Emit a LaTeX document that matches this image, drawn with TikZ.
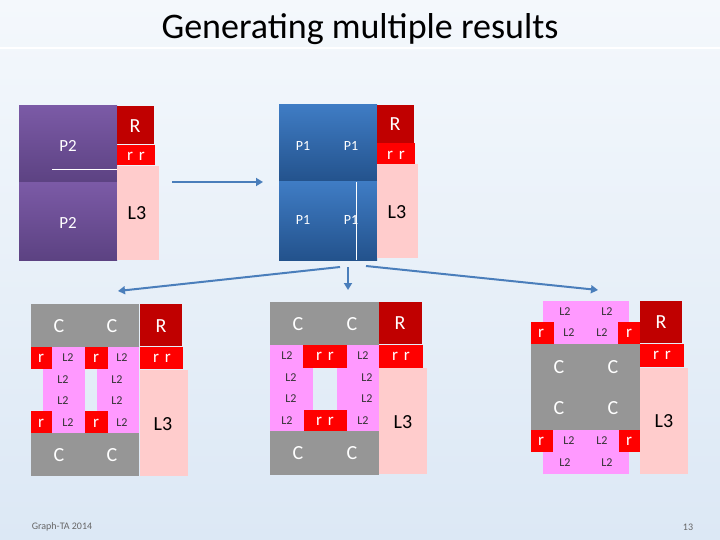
\documentclass[tikz,border=0pt]{standalone}
\usepackage{fontspec}
\setmainfont{Carlito}
\usetikzlibrary{arrows.meta}
\definecolor{bgtop}{HTML}{F4F8FC}
\definecolor{bgbot}{HTML}{DCE8F5}
\definecolor{lila}{HTML}{7B5AA6}
\definecolor{lilad}{HTML}{5C4282}
\definecolor{blu}{HTML}{3F7CC4}
\definecolor{blud}{HTML}{23528C}
\definecolor{dred}{HTML}{C00000}
\definecolor{bred}{HTML}{FF0000}
\definecolor{lthree}{HTML}{FFCCCC}
\definecolor{ltwo}{HTML}{FF99FF}
\definecolor{cgray}{HTML}{969696}
\definecolor{arr}{HTML}{4A7EBB}
\newcommand{\blk}[5]{\fill[#1] (#2,#3) rectangle (#4,#5);}
\begin{document}
\begin{tikzpicture}[x=1pt,y=-1pt]
\tikzset{
  big/.style={text=white, font=\fontsize{20}{20}\selectfont},
  mid/.style={text=white, font=\fontsize{17}{17}\selectfont},
  pone/.style={text=white, font=\fontsize{14}{14}\selectfont},
  small/.style={text=black!80, font=\fontsize{12}{12}\selectfont},
  lbl/.style={text=black, font=\fontsize{20}{20}\selectfont},
  flow/.style={draw=arr, line width=2pt, -{Triangle[length=7pt,width=8pt]}}
}
\shade[top color=bgtop, bottom color=bgbot] (0,0) rectangle (720,540);
\useasboundingbox (0,0) rectangle (720,540);
% title
\node[font=\fontsize{36}{36}\selectfont, text=black] (title) at (360,29) {Generating multiple results};
\draw[white, line width=2pt] (0,48) -- (720,48);
% top left
\shade[top color=lila, bottom color=lilad] (19,106) rectangle (117,183);
\shade[top color=lila, bottom color=lilad] (19,183) rectangle (117,260);
\draw[white, line width=0.8pt] (52,169) -- (117,169);
\blk{dred}{117}{106}{154}{144}
\blk{bred}{117}{145}{155}{165}
\blk{lthree}{117}{166}{159}{260}
\node[mid] (ptwoa) at (68,146) {P2};
\node[mid] (ptwob) at (68,223) {P2};
\node[big] (ra) at (135,126) {R};
\node[mid] (rra) at (136,156) {r\,\,r};
\node[lbl] (lthreea) at (137,213) {L3};
% top right
\shade[top color=blu, bottom color=blud] (279,105) rectangle (377,182);
\shade[top color=blu, bottom color=blud] (279,182) rectangle (377,260);
\draw[white, line width=0.8pt] (356,182) -- (356,260);
\blk{dred}{377}{105}{414}{143}
\blk{bred}{377}{143}{415}{164}
\blk{lthree}{377}{164}{418}{258}
\node[pone] (pa) at (303,146) {P1};
\node[pone] (pb) at (351,146) {P1};
\node[pone] (pc) at (303,220) {P1};
\node[pone] (pd) at (351,220) {P1};
\node[big] (rb) at (395,124) {R};
\node[mid] (rrb) at (396,155) {r\,\,r};
\node[lbl] (lthreeb) at (397,212) {L3};
% arrows
\draw[flow] (172,182) -- (263,182);
\draw[flow] (340,267) -- (118,291);
\draw[flow] (348,267) -- (348,290);
\draw[flow] (366,266) -- (598,290);
% bottom left
\blk{cgray}{31}{304}{139}{347}
\blk{cgray}{31}{433}{139}{476}
\blk{dred}{140}{304}{182}{346}
\blk{bred}{140}{347}{183}{369}
\blk{lthree}{140}{370}{188}{476}
\blk{ltwo}{43}{347}{85}{433}
\blk{ltwo}{97}{347}{139}{433}
\foreach \y in {347,411} {
  \blk{bred}{31}{\y}{52}{\y+22}
  \blk{bred}{85}{\y}{108}{\y+22}
}
\foreach \x in {59,112} {
  \node[big] at (\x,326) {C};
  \node[big] at (\x,455) {C};
}
\foreach \x/\n in {68/a,122/b} {
  \node[small] (ltwo1\n) at (\x,358) {L2};
  \node[small] (ltwo2\n) at (\x-5,380) {L2};
  \node[small] (ltwo3\n) at (\x-5,401) {L2};
  \node[small] (ltwo4\n) at (\x,423) {L2};
}
\foreach \x in {41,96} {
  \node[mid] at (\x,358) {r};
  \node[mid] at (\x,423) {r};
}
\node[big] (rc) at (161,326) {R};
\node[mid] (rrc) at (162,358) {r\,\,r};
\node[lbl] (lthreec) at (163,424) {L3};
% bottom middle
\blk{cgray}{270}{302}{379}{345}
\blk{cgray}{270}{431}{379}{475}
\blk{dred}{379}{302}{422}{344}
\blk{bred}{379}{345}{423}{368}
\blk{lthree}{379}{368}{427}{474}
\blk{ltwo}{270}{345}{313}{431}
\blk{ltwo}{337}{345}{379}{431}
\blk{bred}{303}{345}{347}{368}
\blk{bred}{304}{410}{347}{431}
\foreach \x in {298,352} {
  \node[big] at (\x,324) {C};
  \node[big] at (\x,453) {C};
}
\foreach \x in {287,363} {
  \node[small] at (\x,356) {L2};
  \node[small] at (\x+4,378) {L2};
  \node[small] at (\x+4,399) {L2};
  \node[small] at (\x,421) {L2};
}
\node[mid] (rrd) at (325,356) {r\,\,r};
\node[mid] (rre) at (325,421) {r\,\,r};
\node[big] (rd) at (400,323) {R};
\node[mid] (rrf) at (401,356) {r\,\,r};
\node[lbl] (lthreed) at (403,422) {L3};
% bottom right
\blk{ltwo}{543}{301}{629}{344}
\blk{ltwo}{543}{430}{629}{474}
\blk{cgray}{531}{344}{640}{430}
\blk{bred}{531}{322}{554}{344}
\blk{bred}{618}{322}{640}{344}
\blk{bred}{531}{430}{553}{452}
\blk{bred}{619}{430}{640}{452}
\blk{dred}{640}{301}{682}{343}
\blk{bred}{640}{344}{684}{367}
\blk{lthree}{640}{368}{688}{474}
\node[small] at (565,312) {L2};
\node[small] at (607,312) {L2};
\node[small] at (569,333) {L2};
\node[small] at (602,333) {L2};
\node[small] at (569,441) {L2};
\node[small] at (602,441) {L2};
\node[small] at (565,463) {L2};
\node[small] at (607,463) {L2};
\foreach \x in {559,613} {
  \node[big] at (\x,367) {C};
  \node[big] at (\x,408) {C};
}
\node[mid] at (541,333) {r};
\node[mid] at (629,333) {r};
\node[mid] at (541,441) {r};
\node[mid] at (629,441) {r};
\node[big] (re) at (661,322) {R};
\node[mid] (rrg) at (662,355) {r\,\,r};
\node[lbl] (lthreee) at (664,421) {L3};
% footer
\node[font=\fontsize{10}{10}\selectfont, text=black!60] (foot) at (62,527) {Graph-TA 2014};
\node[font=\fontsize{10}{10}\selectfont, text=black!60] (page) at (688,527) {13};
\end{tikzpicture}
\end{document}
